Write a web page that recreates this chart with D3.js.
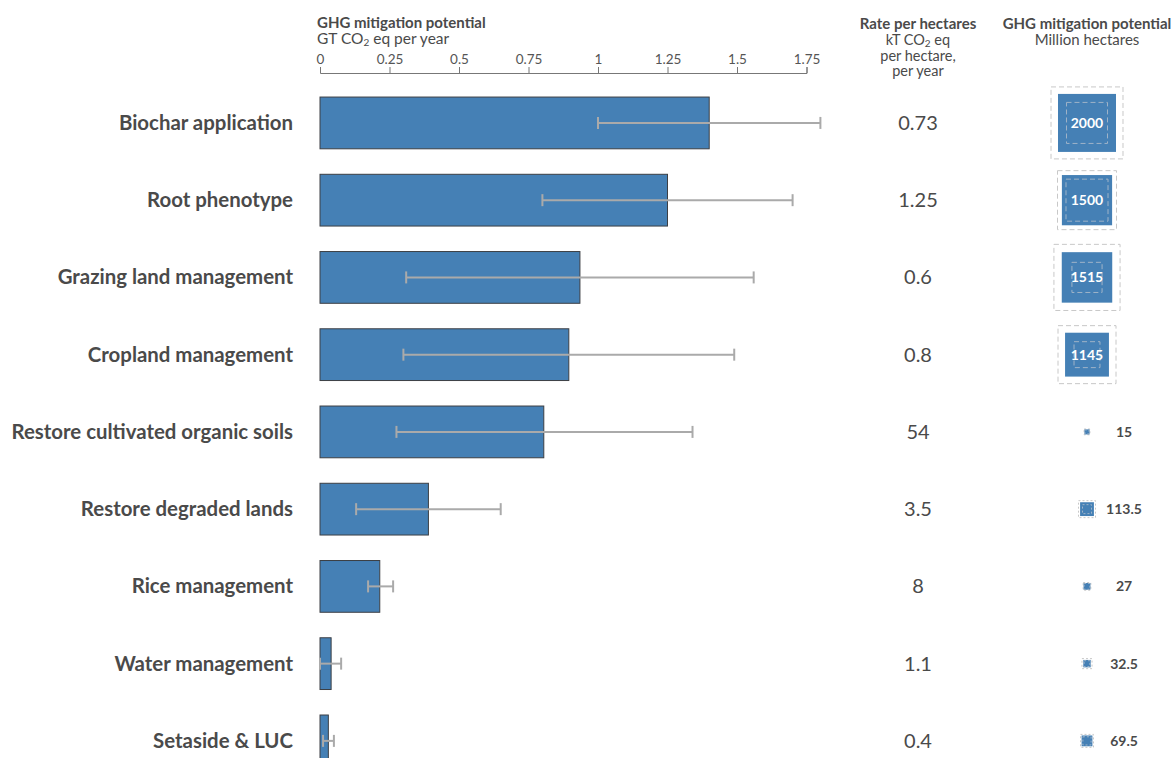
<!DOCTYPE html>
<html>
  <head>
    <title>GHG mitigation potential</title>
    <script src="https://d3js.org/d3.v7.min.js"></script>
    <style>
      body { margin: 0; background: #fff; }
      text { font-family: Lato, "Open Sans", sans-serif; fill: #4a4a4a; }
      .axis path, .axis line { stroke: #777; }
      .axis text { font-size: 13.5px; fill: #555; }
    </style>
  </head>
  <body>
    <svg id="chart" width="1174" height="758"></svg>
  </body>
  <script type="text/javascript">
    var categories = ["Biochar application", "Root phenotype", "Grazing land management",
      "Cropland management", "Restore cultivated organic soils", "Restore degraded lands",
      "Rice management", "Water management", "Setaside & LUC"];
    var potential = [1.40, 1.25, 0.935, 0.895, 0.805, 0.39, 0.215, 0.04, 0.03];
    var errLow = [1.0, 0.80, 0.31, 0.30, 0.275, 0.13, 0.173, 0.0, 0.011];
    var errHigh = [1.80, 1.70, 1.56, 1.49, 1.34, 0.65, 0.263, 0.076, 0.05];
    var rate = ["0.73", "1.25", "0.6", "0.8", "54", "3.5", "8", "1.1", "0.4"];
    var hectares = [2000, 1500, 1515, 1145, 15, 113.5, 27, 32.5, 69.5];
    var hectLow = [1000, 1050, 540, 400, 10, 48, 20, 20, 40];
    var hectHigh = [3080, 2070, 2600, 2000, 20, 172, 35, 60, 100];
    var tickValues = [0, 0.25, 0.5, 0.75, 1, 1.25, 1.5, 1.75];

    var data = categories.map(function (c, i) {
      return { name: c, value: potential[i], lo: errLow[i], hi: errHigh[i],
               rate: rate[i], ha: hectares[i], haLo: hectLow[i], haHi: hectHigh[i] };
    });

    var svg = d3.select("#chart");

    var x = d3.scaleLinear().domain([0, 1.75]).range([320, 806.5]);
    var y = d3.scaleBand().domain(categories).range([84.3, 779.5])
              .paddingInner(0.33).paddingOuter(0.165);
    var side = d3.scaleSqrt().domain([0, 2000]).range([0, 58]);

    var rateX = 918, haX = 1087, haLabelX = 1124;

    // headers
    var h1 = svg.append("g");
    h1.append("text").attr("x", 317).attr("y", 28)
      .style("font-size", "15px").style("font-weight", "bold")
      .text("GHG mitigation potential");
    var sub = h1.append("text").attr("x", 317).attr("y", 44).style("font-size", "15.5px");
    sub.append("tspan").text("GT CO");
    sub.append("tspan").attr("dy", 2).style("font-size", "10px").text("2");
    sub.append("tspan").attr("dy", -2).text(" eq per year");

    var h2 = svg.append("g").attr("text-anchor", "middle");
    h2.append("text").attr("x", rateX).attr("y", 29)
      .style("font-size", "15px").style("font-weight", "bold").text("Rate per hectares");
    var co = h2.append("text").attr("x", rateX).attr("y", 45).style("font-size", "14.5px");
    co.append("tspan").text("kT CO");
    co.append("tspan").attr("dy", 2).style("font-size", "10px").text("2");
    co.append("tspan").attr("dy", -2).text(" eq");
    h2.append("text").attr("x", rateX).attr("y", 61).style("font-size", "14.5px").text("per hectare,");
    h2.append("text").attr("x", rateX).attr("y", 76).style("font-size", "14.5px").text("per year");

    var h3 = svg.append("g").attr("text-anchor", "middle");
    h3.append("text").attr("x", haX).attr("y", 29)
      .style("font-size", "15px").style("font-weight", "bold").text("GHG mitigation potential");
    h3.append("text").attr("x", haX).attr("y", 45).style("font-size", "15px").text("Million hectares");

    // axis
    svg.append("g")
      .attr("class", "axis")
      .attr("transform", "translate(0,73)")
      .call(d3.axisTop(x).tickValues(tickValues).tickSize(6).tickPadding(3)
        .tickFormat(function (d) { return String(d); }));

    var rows = svg.selectAll("g.row")
      .data(data)
      .enter()
      .append("g")
        .attr("class", "row");

    var cy = function (d) { return y(d.name) + y.bandwidth() / 2; };

    rows.append("text")
      .attr("x", 293)
      .attr("y", function (d) { return cy(d) + 7; })
      .attr("text-anchor", "end")
      .style("font-size", "20.4px")
      .style("font-weight", "bold")
      .text(function (d) { return d.name; });

    rows.append("rect")
      .attr("x", x(0))
      .attr("y", function (d) { return y(d.name); })
      .attr("width", function (d) { return x(d.value) - x(0); })
      .attr("height", y.bandwidth())
      .style("fill", "#4580b5")
      .style("stroke", "#3c3f44")
      .style("stroke-width", 1);

    rows.append("line")
      .attr("x1", function (d) { return x(d.lo); })
      .attr("x2", function (d) { return x(d.hi); })
      .attr("y1", cy).attr("y2", cy)
      .style("stroke", "#aaa").style("stroke-width", 2);
    ["lo", "hi"].forEach(function (k) {
      rows.append("line")
        .attr("x1", function (d) { return x(d[k]); })
        .attr("x2", function (d) { return x(d[k]); })
        .attr("y1", function (d) { return cy(d) - 6; })
        .attr("y2", function (d) { return cy(d) + 6; })
        .style("stroke", "#aaa").style("stroke-width", 2);
    });

    rows.append("text")
      .attr("x", rateX)
      .attr("y", function (d) { return cy(d) + 7; })
      .attr("text-anchor", "middle")
      .style("font-size", "20px")
      .text(function (d) { return d.rate; });

    // hectare squares: outer dashed = high, filled = value, inner dashed = low
    rows.append("rect")
      .attr("x", function (d) { return haX - side(d.haHi) / 2; })
      .attr("y", function (d) { return cy(d) - side(d.haHi) / 2; })
      .attr("width", function (d) { return side(d.haHi); })
      .attr("height", function (d) { return side(d.haHi); })
      .style("fill", "none").style("stroke", "#c8c8c8")
      .style("stroke-dasharray", function (d) { return side(d.haHi) > 20 ? "5,3" : "2,2"; })
      .style("stroke-width", 1);
    rows.append("rect")
      .attr("x", function (d) { return haX - side(d.ha) / 2; })
      .attr("y", function (d) { return cy(d) - side(d.ha) / 2; })
      .attr("width", function (d) { return side(d.ha); })
      .attr("height", function (d) { return side(d.ha); })
      .style("fill", "#4580b5");
    rows.append("rect")
      .attr("x", function (d) { return haX - side(d.haLo) / 2; })
      .attr("y", function (d) { return cy(d) - side(d.haLo) / 2; })
      .attr("width", function (d) { return side(d.haLo); })
      .attr("height", function (d) { return side(d.haLo); })
      .style("fill", "none").style("stroke", "#9fb3c8")
      .style("stroke-dasharray", function (d) { return side(d.haLo) > 20 ? "5,3" : "2,2"; })
      .style("stroke-width", 1);

    rows.append("text")
      .attr("x", function (d) { return side(d.ha) > 30 ? haX : haLabelX; })
      .attr("y", function (d) { return cy(d) + 5; })
      .attr("text-anchor", "middle")
      .style("font-size", "14px")
      .style("font-weight", "bold")
      .style("fill", function (d) { return side(d.ha) > 30 ? "#fff" : "#4a4a4a"; })
      .text(function (d) { return d.ha; });
  </script>
</html>
